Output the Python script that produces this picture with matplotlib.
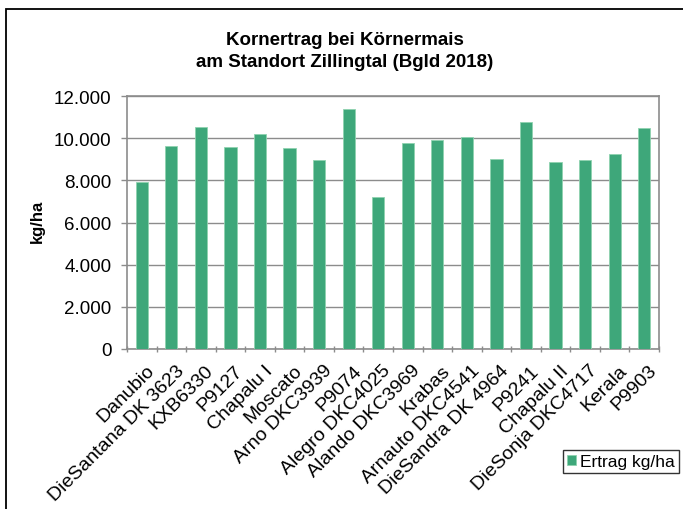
import matplotlib
matplotlib.use("Agg")
import matplotlib.pyplot as plt
import matplotlib.transforms as mtransforms
from matplotlib.patches import Rectangle
from matplotlib.ticker import FuncFormatter, FixedLocator
import numpy as np

plt.rcParams['font.family'] = ['Liberation Sans', 'DejaVu Sans']

categories = ["Danubio", "DieSantana DK 3623", "KXB6330", "P9127", "Chapalu I",
              "Moscato", "Arno DKC3939", "P9074", "Alegro DKC4025", "Alando DKC3969",
              "Krabas", "Arnauto DKC4541", "DieSandra DK 4964", "P9241", "Chapalu II",
              "DieSonja DKC4717", "Kerala", "P9903"]
values = [7910, 9610, 10520, 9560, 10220, 9510, 8960, 11360, 7190, 9750,
          9920, 10050, 8990, 10770, 8850, 8960, 9230, 10460]
series_name = "Ertrag kg/ha"
title_lines = ["Kornertrag bei Körnermais", "am Standort Zillingtal (Bgld 2018)"]
ylabel = "kg/ha"

W, H = 683, 510
fig = plt.figure(figsize=(W/100, H/100), dpi=100)
ax = fig.add_axes([127/W, 1-350/H, (659-127)/W, (350-97)/H])

x = np.arange(len(categories))
ax.bar(x, values, width=0.41, color='#3EA77A', edgecolor='#8fd3b0', linewidth=0.6,
       label=series_name, zorder=3)

ax.set_xlim(-0.5, len(categories)-0.5)
ax.set_ylim(0, 12000)
ax.set_yticks(np.arange(0, 12001, 2000))
ax.yaxis.set_major_formatter(FuncFormatter(lambda v, p: f"{int(v):,}".replace(",", ".")))
ax.grid(axis='y', color='#8c8c8c', linewidth=1.0, zorder=0)
ax.set_axisbelow(True)

ax.set_xticks(x)
ax.set_xticklabels(categories, rotation=45, ha='right', va='top', rotation_mode='anchor', fontsize=14)
ax.tick_params(axis='x', length=0, pad=9)
offset = mtransforms.ScaledTranslation(4/100, 0, fig.dpi_scale_trans)
for lbl in ax.get_xticklabels():
    lbl.set_transform(lbl.get_transform() + offset)
ax.xaxis.set_minor_locator(FixedLocator(np.arange(-0.5, len(categories))))
ax.tick_params(axis='x', which='minor', length=5, color='#8c8c8c', direction='inout', width=1)
ax.tick_params(axis='y', length=4.3, color='#8c8c8c', labelsize=13.5, width=1, pad=7)

for s in ax.spines.values():
    s.set_color('#8c8c8c')
    s.set_linewidth(1.2)

fig.text(37/W, 1-221/H, ylabel, rotation=90, ha='center', va='center',
         fontsize=12, fontweight='bold')

fig.text(0.505, 1-45/H, title_lines[0], ha='center', va='baseline', fontsize=13.5, fontweight='bold')
fig.text(0.505, 1-67/H, title_lines[1], ha='center', va='baseline', fontsize=13.5, fontweight='bold')

leg = ax.legend(loc='upper right', bbox_to_anchor=(679/W, 1-451/H), bbox_transform=fig.transFigure,
                fontsize=12.5, frameon=True, fancybox=False, edgecolor='black',
                handlelength=0.52, handleheight=0.52, handletextpad=0.25, borderpad=0.22,
                borderaxespad=0)
leg.get_frame().set_linewidth(1.0)

fig.patches.append(Rectangle((5.5/W, -0.05), 1.0, (510-9.5)/H + 0.05, transform=fig.transFigure,
                             fill=False, edgecolor='black', linewidth=1.3))

fig.savefig("out.png", dpi=100)
